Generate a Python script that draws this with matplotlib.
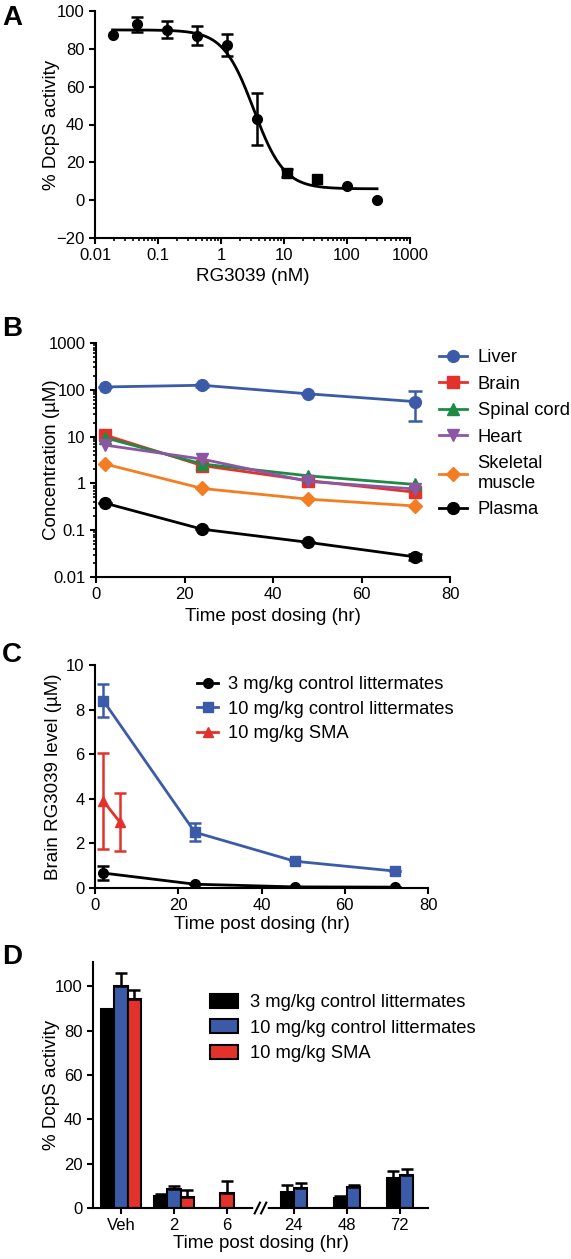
import numpy as np
import matplotlib
matplotlib.use("Agg")
import matplotlib.pyplot as plt
from matplotlib.patches import Patch
from matplotlib.lines import Line2D

plt.rcParams['font.family'] = ['Liberation Sans', 'DejaVu Sans']
plt.rcParams['font.size'] = 12
plt.rcParams['axes.linewidth'] = 1.5
plt.rcParams['xtick.major.width'] = 1.5
plt.rcParams['ytick.major.width'] = 1.5
plt.rcParams['xtick.minor.width'] = 1.2
plt.rcParams['ytick.minor.width'] = 1.2
plt.rcParams['xtick.major.size'] = 4
plt.rcParams['ytick.major.size'] = 4
plt.rcParams['xtick.minor.size'] = 2.5
plt.rcParams['ytick.minor.size'] = 2.5

BLUE = '#3B5BA9'
RED = '#E3322B'
GREEN = '#1C8C45'
PURPLE = '#8D56A5'
ORANGE = '#F27D22'
TICK_FS = 12
LABEL_FS = 13.5
LEG_FS = 13.2

# ---- panel A : dose response
a_conc = [0.019, 0.046, 0.137, 0.41, 1.23, 3.7, 11.1, 33.3, 100, 300]
a_act = [87.3, 93, 90, 87, 82, 43, 14.4, 11.2, 7.7, 0.1]
a_err = [0, 4, 4.5, 5, 6, 13.6, 2, 0, 0, 0]
a_marker = ['o', 'o', 'o', 'o', 'o', 'o', 's', 's', 'o', 'o']
# 4PL fit parameters
fit_top, fit_bottom, fit_ic50, fit_hill = 90, 6, 3.3, 1.8

# ---- panel B : tissue PK (log scale)
b_time = [2, 24, 48, 72]
b_series = {
    'Liver': [115, 125, 82, 56],
    'Brain': [10.8, 2.4, 1.15, 0.65],
    'Spinal cord': [9.5, 2.6, 1.45, 0.95],
    'Heart': [6.6, 3.3, 1.1, 0.76],
    'Skeletal\nmuscle': [2.6, 0.78, 0.46, 0.33],
    'Plasma': [0.38, 0.105, 0.055, 0.027],
}
b_colors = [BLUE, RED, GREEN, PURPLE, ORANGE, 'black']
b_markers = ['o', 's', '^', 'v', 'D', 'o']
liver_err_lo = [0, 10, 0, 34]
liver_err_hi = [0, 10, 0, 36]
plasma_err = [0, 0, 0, 0.004]

# ---- panel C : brain levels
c_time_ctl = [2, 24, 48, 72]
c_3ctl = [0.67, 0.17, 0.05, 0.04]
c_3ctl_err = [0.33, 0, 0, 0]
c_10ctl = [8.4, 2.5, 1.2, 0.76]
c_10ctl_err = [0.75, 0.4, 0, 0]
c_time_sma = [2, 6]
c_10sma = [3.9, 2.95]
c_10sma_err = [2.15, 1.3]

# ---- panel D : DcpS activity bars
d_groups = ['Veh', '2', '6', '24', '48', '72']
d_3ctl = [90, 5.5, np.nan, 7.3, 4.5, 13.5]
d_3ctl_err = [0, 0.8, 0, 3.2, 0.7, 3.4]
d_10ctl = [100, 8.5, np.nan, 9, 9.5, 14.7]
d_10ctl_err = [6, 1.5, 0, 2.2, 1, 3]
d_10sma = [94.5, 5, 6.7, np.nan, np.nan, np.nan]
d_10sma_err = [3.7, 3.2, 5.7, 0, 0, 0]
legend_labels = ['3 mg/kg control littermates', '10 mg/kg control littermates', '10 mg/kg SMA']

W, H = 571, 1259
fig = plt.figure(figsize=(W / 100, H / 100), dpi=100)


def box(l, t, r, b):
    return [l / W, 1 - b / H, (r - l) / W, (b - t) / H]


def style(ax):
    ax.spines['top'].set_visible(False)
    ax.spines['right'].set_visible(False)
    ax.tick_params(direction='out', labelsize=TICK_FS)


def labels(ax, xl, yl, l, t, r, b, ylab_right, xlab_top):
    # place axis titles at pixel positions
    ax.set_xlabel(xl, fontsize=LABEL_FS)
    ax.set_ylabel(yl, fontsize=LABEL_FS)
    ax.yaxis.set_label_coords((ylab_right - l) / (r - l), 0.5)
    ax.xaxis.set_label_coords(0.5, -(xlab_top - b) / (b - t))


def letter(y, s):
    fig.text(2 / W, 1 - y / H, s, fontsize=20, fontweight='bold', va='top', ha='left')


def legend(handles, names, x, y, **kw):
    fig.legend(handles, names, loc='upper left', bbox_to_anchor=(x / W, 1 - y / H),
               frameon=False, fontsize=LEG_FS, borderpad=0, borderaxespad=0, **kw)


# A
A = (95, 11, 410, 238)
axA = fig.add_axes(box(*A))
style(axA)
xx = np.logspace(np.log10(a_conc[0]), np.log10(a_conc[-1]), 300)
yy = fit_bottom + (fit_top - fit_bottom) / (1 + (xx / fit_ic50) ** fit_hill)
axA.plot(xx, yy, color='black', lw=2)
for x, y, e, m in zip(a_conc, a_act, a_err, a_marker):
    axA.errorbar(x, y, yerr=e if e else None, fmt=m, color='black', ms=7,
                 capsize=4, elinewidth=1.8, capthick=1.8)
axA.set_xscale('log')
axA.set_xlim(0.01, 1000)
axA.set_ylim(-20, 100)
axA.set_xticks([0.01, 0.1, 1, 10, 100, 1000])
axA.set_xticklabels(['0.01', '0.1', '1', '10', '100', '1000'])
axA.set_yticks(range(-20, 101, 20))
labels(axA, 'RG3039 (nM)', '% DcpS activity', *A, 60, 268)
letter(5, 'A')

# B
B = (96, 343, 450, 577)
axB = fig.add_axes(box(*B))
style(axB)
handles = []
for (name, vals), c, m in zip(b_series.items(), b_colors, b_markers):
    ms = 7 if m == 'D' else 8.5
    axB.plot(b_time, vals, color=c, marker=m, ms=ms, lw=2, label=name)
    handles.append(Line2D([], [], color=c, marker=m, ms=ms, lw=2))
axB.errorbar(b_time, b_series['Liver'], yerr=[liver_err_lo, liver_err_hi], fmt='none',
             ecolor=BLUE, capsize=5, elinewidth=1.8, capthick=1.8)
axB.errorbar(b_time, b_series['Plasma'], yerr=plasma_err, fmt='none',
             ecolor='black', capsize=5, elinewidth=1.8, capthick=1.8)
axB.set_yscale('log')
axB.set_ylim(0.01, 1000)
axB.set_xlim(0, 80)
axB.set_xticks(range(0, 81, 20))
axB.set_yticks([0.01, 0.1, 1, 10, 100, 1000])
axB.set_yticklabels(['0.01', '0.1', '1', '10', '100', '1000'])
labels(axB, 'Time post dosing (hr)', 'Concentration (µM)', *B, 60, 608)
legend(handles, list(b_series.keys()), 439, 349,
       handlelength=1.5, handletextpad=0.6, labelspacing=0.52)
letter(316, 'B')

# C
C = (95, 665, 428, 888)
axC = fig.add_axes(box(*C))
style(axC)
axC.errorbar(c_time_ctl, c_3ctl, yerr=c_3ctl_err, color='black', marker='o', ms=7,
             lw=2, capsize=4, elinewidth=1.8, capthick=1.8)
axC.errorbar(c_time_ctl, c_10ctl, yerr=c_10ctl_err, color=BLUE, marker='s', ms=7,
             lw=2, capsize=4, elinewidth=1.8, capthick=1.8)
axC.errorbar(c_time_sma, c_10sma, yerr=c_10sma_err, color=RED, marker='^', ms=7.5,
             lw=2, capsize=4, elinewidth=1.8, capthick=1.8)
axC.set_xlim(0, 80)
axC.set_ylim(0, 10)
axC.set_xticks(range(0, 81, 20))
axC.set_yticks(range(0, 11, 2))
labels(axC, 'Time post dosing (hr)', 'Brain RG3039 level (µM)', *C, 62, 916)
c_handles = [Line2D([], [], color='black', marker='o', ms=7, lw=2),
             Line2D([], [], color=BLUE, marker='s', ms=7, lw=2),
             Line2D([], [], color=RED, marker='^', ms=7.5, lw=2)]
legend(c_handles, legend_labels, 197, 676,
       handlelength=1.15, handletextpad=0.55, labelspacing=0.42)
letter(642, 'C')

# D
D = (93, 962, 428, 1208)
axD = fig.add_axes(box(*D))
style(axD)
pos = np.array([0, 1, 2, 3.26, 4.26, 5.26])
bw = 0.25
series = [(d_3ctl, d_3ctl_err, 'black'), (d_10ctl, d_10ctl_err, BLUE), (d_10sma, d_10sma_err, RED)]
for gi, p in enumerate(pos):
    present = [s for s in series if not np.isnan(s[0][gi])]
    n = len(present)
    for k, (vals, errs, c) in enumerate(present):
        x = p + (k - (n - 1) / 2) * bw
        axD.bar(x, vals[gi], width=bw, color=c, edgecolor='black', linewidth=1.5)
        if errs[gi] > 0:
            axD.errorbar(x, vals[gi], yerr=[[0], [errs[gi]]], fmt='none', ecolor='black',
                         capsize=4, elinewidth=1.8, capthick=1.8)
axD.set_xlim(-0.53, 5.79)
axD.set_ylim(0, 111)
axD.set_yticks(range(0, 101, 20))
axD.set_xticks(pos)
axD.set_xticklabels(d_groups)
labels(axD, 'Time post dosing (hr)', '% DcpS activity', *D, 60, 1235)
# axis break
tr = axD.get_xaxis_transform()
axD.plot([2.55, 2.71], [0, 0], color='white', lw=4, transform=tr, clip_on=False, zorder=5)
for bx in (2.55, 2.67):
    axD.plot([bx - 0.03, bx + 0.07], [-0.022, 0.022], color='black', lw=1.5,
             transform=tr, clip_on=False, zorder=6)
d_handles = [Patch(facecolor='black', edgecolor='black', linewidth=1.5),
             Patch(facecolor=BLUE, edgecolor='black', linewidth=1.5),
             Patch(facecolor=RED, edgecolor='black', linewidth=1.5)]
legend(d_handles, legend_labels, 210, 994,
       handlelength=1.55, handleheight=0.8, handletextpad=0.65, labelspacing=0.43)
letter(944, 'D')

fig.savefig('out.png', dpi=100)
